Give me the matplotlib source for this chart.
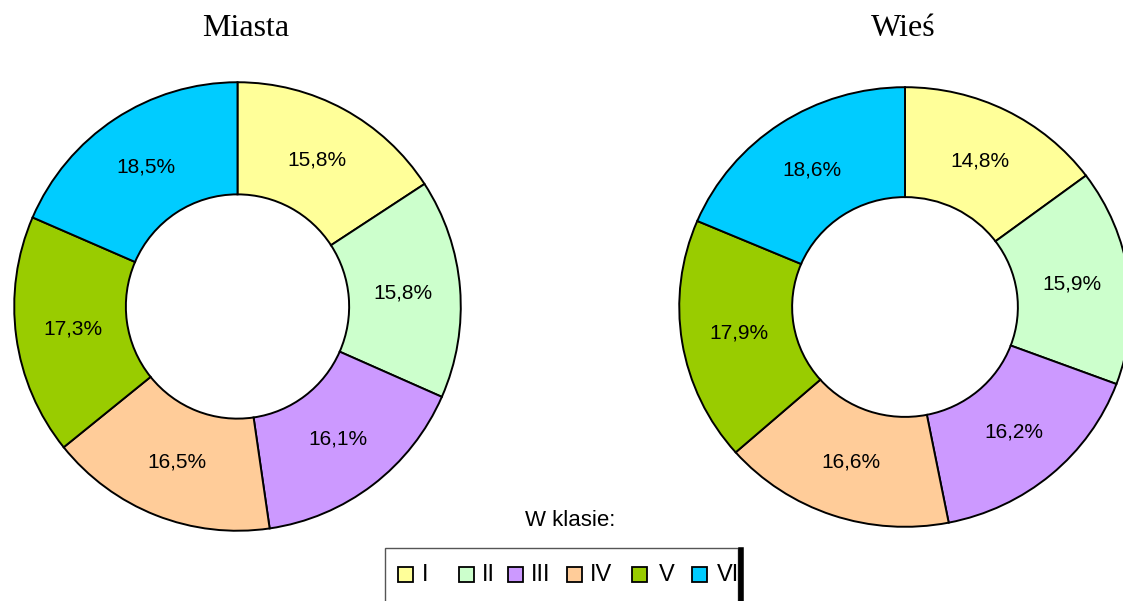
import matplotlib
matplotlib.use("Agg")
import numpy as np
import matplotlib.pyplot as plt
from matplotlib.patches import Rectangle
from matplotlib.lines import Line2D

W, H = 1123, 601
categories = ["I", "II", "III", "IV", "V", "VI"]
miasta = [15.8, 15.8, 16.1, 16.5, 17.3, 18.5]
wies = [14.8, 15.9, 16.2, 16.6, 17.9, 18.6]
colors = ["#FFFF99", "#CCFFCC", "#CC99FF", "#FFCC99", "#99CC00", "#00CCFF"]
titles = ["Miasta", "Wieś"]
legend_title = "W klasie:"

fig = plt.figure(figsize=(W / 100, H / 100), dpi=100)

def box(x0, y0, x1, y1):
    return [x0 / W, 1 - y1 / H, (x1 - x0) / W, (y1 - y0) / H]

def fmt(v):
    return f"{v:.1f}".replace(".", ",") + "%"

def draw(ax, vals):
    wedges, texts = ax.pie(vals, colors=colors, startangle=90, counterclock=False,
                           radius=1.0,
                           wedgeprops=dict(width=0.5, edgecolor="black", linewidth=1.4))
    for w, v in zip(wedges, vals):
        ang = np.deg2rad((w.theta1 + w.theta2) / 2)
        ax.text(0.745 * np.cos(ang), 0.745 * np.sin(ang), fmt(v), ha="center", va="center",
                fontsize=15, family="Liberation Sans")
    ax.set_xlim(-1.01, 1.01)
    ax.set_ylim(-1.01, 1.01)
    ax.set_aspect("auto")
    ax.axis("off")
    return wedges

ax1 = fig.add_axes(box(12, 80, 463, 533))
draw(ax1, miasta)
ax2 = fig.add_axes(box(677, 85, 1133, 529))
draw(ax2, wies)

fig.text(245.5 / W, 1 - 28 / H, titles[0], ha="center", va="center", fontsize=23, family="Liberation Serif")
fig.text(903 / W, 1 - 28 / H, titles[1], ha="center", va="center", fontsize=23, family="Liberation Serif")

# legend
fig.text(570 / W, 1 - 521 / H, legend_title, ha="center", va="center", fontsize=16, family="Liberation Sans")
fig.patches.append(Rectangle((385 / W, 1 - 610 / H), (738 - 385) / W, (610 - 548) / H,
                             transform=fig.transFigure, facecolor="white", edgecolor="#555555", linewidth=1.0))
fig.lines.append(Line2D([740.5 / W, 740.5 / W], [1 - 550 / H, 0], transform=fig.transFigure,
                        color="black", linewidth=4))
mx = [398, 459, 508, 567, 632, 692]
lx = [422, 482, 531, 590, 659, 717]
for c, lab, m, l in zip(colors, categories, mx, lx):
    fig.patches.append(Rectangle((m / W, 1 - 582 / H), 15 / W, 15 / H, transform=fig.transFigure,
                                 facecolor=c, edgecolor="black", linewidth=1.3))
    fig.text(l / W, 1 - 575 / H, lab, ha="left", va="center", fontsize=17, family="Liberation Sans")

fig.savefig("out.png", dpi=100)
